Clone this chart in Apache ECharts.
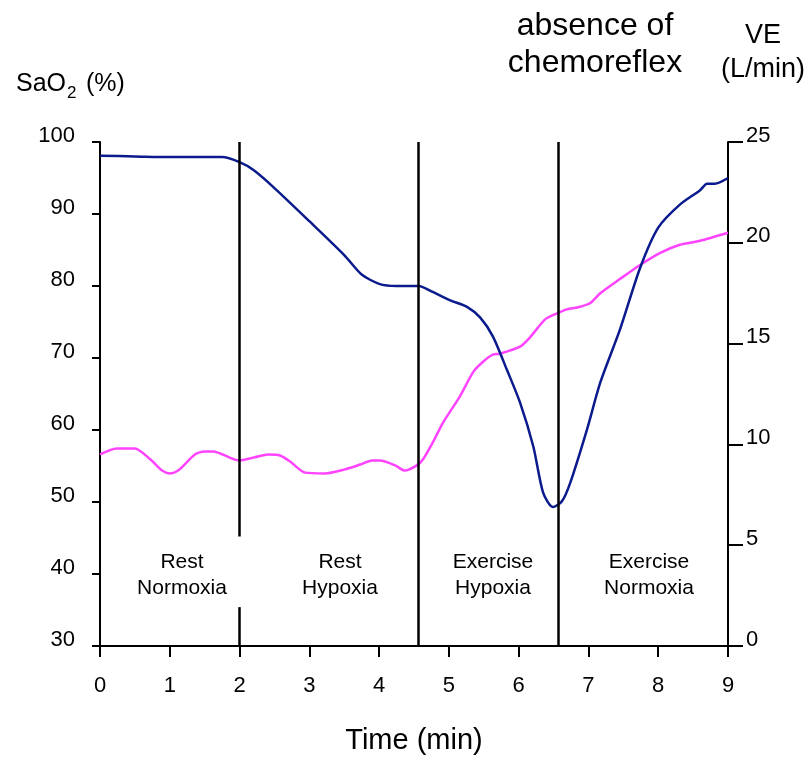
<!DOCTYPE html>
<html>
<head>
<meta charset="utf-8">
<script src="https://cdn.jsdelivr.net/npm/echarts@6/dist/echarts.min.js"></script>
<style>
  html, body { margin: 0; padding: 0; background: #fff; }
  #chart { width: 810px; height: 760px; }
</style>
</head>
<body>
<div id="chart"></div>
<script>
// SaO2 (%) – left axis
const saTime = [0, 0.5, 1.0, 1.75, 2.0, 2.2, 2.5, 3.0, 3.5, 3.75, 4.0, 4.25, 4.57, 4.73, 5.02, 5.26, 5.45,
  5.63, 5.83, 6.02, 6.21, 6.35, 6.49, 6.62, 6.74, 6.98, 7.17, 7.45, 7.74, 8.0, 8.31, 8.6, 8.7, 8.81, 9.0];
const saValues = [98.1, 98.0, 97.9, 97.9, 97.2, 96.1, 93.6, 89.0, 84.3, 81.6, 80.3, 80.0, 80.0, 79.35, 78.0, 77.1, 75.6,
  73.0, 68.4, 63.8, 57.7, 51.3, 49.3, 50.1, 52.7, 60.1, 66.6, 73.9, 82.5, 88.1, 91.3, 93.3, 94.2, 94.2, 95.0];

// VE (L/min) – right axis
const veTime = [0, 0.24, 0.5, 0.72, 0.89, 1.0, 1.12, 1.36, 1.5, 1.62, 1.99, 2.22, 2.41, 2.58, 2.72, 2.94,
  3.22, 3.51, 3.73, 3.9, 4.01, 4.23, 4.37, 4.54, 4.63, 4.77, 4.92, 5.16, 5.35, 5.49, 5.63, 5.73,
  6.02, 6.16, 6.38, 6.55, 6.69, 6.85, 7.02, 7.17, 7.45, 7.74, 8.03, 8.31, 8.6, 9.0];
const veValues = [9.5, 9.8, 9.8, 9.26, 8.7, 8.56, 8.7, 9.5, 9.65, 9.65, 9.2, 9.36, 9.5, 9.45, 9.16, 8.6,
  8.56, 8.76, 9.0, 9.2, 9.2, 8.96, 8.7, 8.96, 9.26, 10.1, 11.1, 12.4, 13.6, 14.1, 14.45, 14.5,
  14.85, 15.3, 16.2, 16.5, 16.7, 16.8, 17.0, 17.5, 18.2, 18.9, 19.5, 19.9, 20.1, 20.5];

// phase boundaries (min) and region labels
const phaseLines = [2, 4.567, 6.573];
const phaseLabels = ["Rest\nNormoxia", "Rest\nHypoxia", "Exercise\nHypoxia", "Exercise\nNormoxia"];
const phaseLabelX = [182, 340, 493, 649];

const font = "Liberation Sans, Arial, sans-serif";
const zip = (xs, ys) => xs.map((x, i) => [x, ys[i]]);

const chart = echarts.init(document.getElementById("chart"));

// x = 2 line is broken where the "Rest Normoxia" label sits
const vLines = [
  [{ coord: [phaseLines[0], 100] }, { coord: [phaseLines[0], 45.2] }],
  [{ coord: [phaseLines[0], 35.4] }, { coord: [phaseLines[0], 30] }],
  [{ coord: [phaseLines[1], 100] }, { coord: [phaseLines[1], 30] }],
  [{ coord: [phaseLines[2], 100] }, { coord: [phaseLines[2], 30] }],
];

const regionTexts = phaseLabels.map((t, i) => ({
  type: "text",
  x: phaseLabelX[i],
  y: 575,
  style: {
    text: t, fill: "#000", font: "21px " + font, lineHeight: 26,
    textAlign: "center", textVerticalAlign: "middle",
  },
}));

// y labels sit a little above their ticks
const yLabel = (margin) => ({
  color: "#000", fontSize: 22, fontFamily: font, margin,
  verticalAlign: "bottom", lineHeight: 13,
});

const option = {
  animation: false,
  backgroundColor: "#fff",
  grid: { left: 100, right: 82, top: 142, bottom: 113 },
  xAxis: {
    type: "value",
    min: 0, max: 9, interval: 1,
    splitLine: { show: false },
    axisLine: { lineStyle: { color: "#000", width: 2 } },
    axisTick: { length: 11, lineStyle: { color: "#000", width: 2 } },
    axisLabel: { color: "#000", fontSize: 22, fontFamily: font, margin: 29 },
    name: "Time (min)",
    nameLocation: "middle",
    nameGap: 80,
    nameTextStyle: { color: "#000", fontSize: 29, fontFamily: font },
  },
  yAxis: [
    {
      type: "value",
      min: 30, max: 100, interval: 10,
      splitLine: { show: false },
      axisLine: { show: true, lineStyle: { color: "#000", width: 2 } },
      axisTick: { show: true, length: 8, lineStyle: { color: "#000", width: 2 } },
      axisLabel: yLabel(25),
    },
    {
      type: "value",
      position: "right",
      min: 0, max: 25, interval: 5,
      splitLine: { show: false },
      axisLine: { show: true, lineStyle: { color: "#000", width: 2 } },
      axisTick: { show: true, length: 15, lineStyle: { color: "#000", width: 2 } },
      axisLabel: yLabel(18),
    },
  ],
  series: [
    {
      name: "VE",
      type: "line",
      yAxisIndex: 1,
      data: zip(veTime, veValues),
      showSymbol: false,
      smooth: 0.25,
      lineStyle: { color: "#ff44ff", width: 2.5 },
      z: 2,
    },
    {
      name: "SaO2",
      type: "line",
      yAxisIndex: 0,
      data: zip(saTime, saValues),
      showSymbol: false,
      smooth: 0.25,
      lineStyle: { color: "#0b1a8c", width: 2.5 },
      z: 3,
      markLine: {
        silent: true,
        symbol: "none",
        label: { show: false },
        lineStyle: { color: "#000", width: 2.5, type: "solid" },
        data: vLines,
      },
    },
  ],
  graphic: [
    {
      type: "text", x: 595, y: 45,
      style: {
        text: "absence of\nchemoreflex", fill: "#000", font: "32px " + font, lineHeight: 37,
        textAlign: "center", textVerticalAlign: "middle",
      },
    },
    {
      type: "text", x: 763, y: 53,
      style: {
        text: "VE\n(L/min)", fill: "#000", font: "27px " + font, lineHeight: 34,
        textAlign: "center", textVerticalAlign: "middle",
      },
    },
    {
      type: "text", x: 16, y: 84,
      style: { text: "SaO", fill: "#000", font: "25px " + font, textVerticalAlign: "middle" },
    },
    {
      type: "text", x: 67, y: 93,
      style: { text: "2", fill: "#000", font: "17px " + font, textVerticalAlign: "middle" },
    },
    {
      type: "text", x: 86, y: 84,
      style: { text: "(%)", fill: "#000", font: "25px " + font, textVerticalAlign: "middle" },
    },
    ...regionTexts,
  ],
};

chart.setOption(option);
window.addEventListener("resize", () => chart.resize());
</script>
</body>
</html>
